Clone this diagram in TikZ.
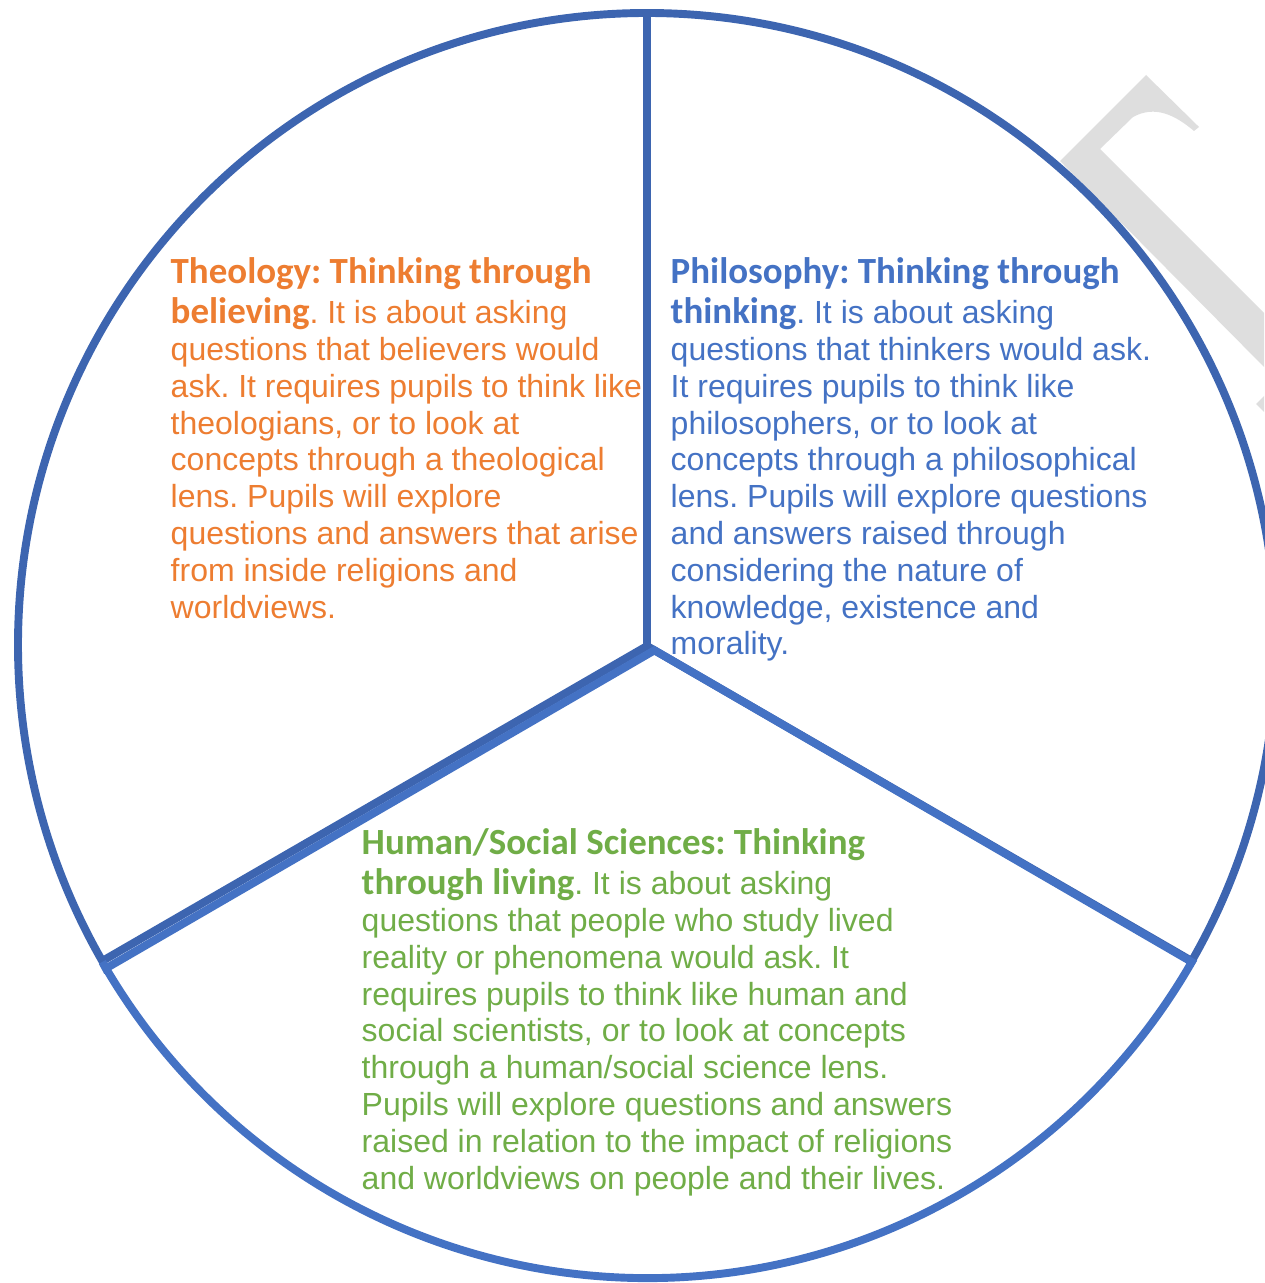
\documentclass[tikz,border=0pt]{standalone}
\usepackage{fontspec}
\setmainfont{Liberation Sans}
\newfontfamily\calibri{Carlito}
\usepackage{xcolor}
\usepackage{tikz}
\usetikzlibrary{positioning}

\definecolor{rimblue}{RGB}{61,101,176}
\definecolor{lowblue}{RGB}{68,114,196}
\definecolor{theoorange}{RGB}{237,125,49}
\definecolor{philblue}{RGB}{68,114,196}
\definecolor{humgreen}{RGB}{112,173,71}
\definecolor{markgray}{RGB}{222,222,222}

\newcommand{\lead}[1]{{\calibri\bfseries\fontsize{10.5}{11}\selectfont #1}}

\begin{document}
\frenchspacing
\begin{tikzpicture}[x=0.01cm, y=-0.01cm,
    rim/.style={line width=2.25pt, line join=miter},
    lens/.style={anchor=north west, inner sep=0pt, align=left,
        font=\fontsize{9.1}{10.47}\selectfont}]
    \useasboundingbox (0,0) rectangle (1264,1283);

    % faint watermark letter behind the wheel
    \fill[markgray] (1060,161) -- (1146,75) -- (1199,127) -- (1194,131)
        .. controls (1175,115) and (1155,105) .. (1133,117)
        -- (1100,149) -- (1264,313) -- (1264,367) -- cycle;
    \fill[markgray] (1256,404) -- (1264,396) -- (1264,412) -- cycle;

    % the three sectors
    \coordinate (hub) at (647,646);
    \coordinate (top) at (647,13);
    \coordinate (ll) at (102.3,962);
    \coordinate (hubb) at (654.5,650.3);
    \coordinate (llb) at (105.8,968.5);
    \draw[rim, rimblue] (hub) -- (top)
        arc[start angle=-90, end angle=-210, x radius=629, y radius=632] -- cycle;
    \draw[rim, rimblue] (hub) -- (top)
        arc[start angle=-90, end angle=30, x radius=629, y radius=632] -- cycle;
    \draw[rim, lowblue] (hubb) -- (llb) -- (ll)
        arc[start angle=150, end angle=30, x radius=629, y radius=632] -- cycle;

    % sector texts
    \node[lens, text=theoorange] (theology) at (170,257) {%
        \lead{Theology: Thinking through}\\[0.9pt]
        \lead{believing}. It is about asking\\
        questions that believers would\\
        ask. It requires pupils to think like\\
        theologians, or to look at\\
        concepts through a theological\\
        lens. Pupils will explore\\
        questions and answers that arise\\
        from inside religions and\\
        worldviews.};
    \node[lens, text=philblue] (philosophy) at (670,257) {%
        \lead{Philosophy: Thinking through}\\[0.9pt]
        \lead{thinking}. It is about asking\\
        questions that thinkers would ask.\\
        It requires pupils to think like\\
        philosophers, or to look at\\
        concepts through a philosophical\\
        lens. Pupils will explore questions\\
        and answers raised through\\
        considering the nature of\\
        knowledge, existence and\\
        morality.};
    \node[lens, text=humgreen] (social) at (361,828) {%
        \lead{Human/Social Sciences: Thinking}\\[0.9pt]
        \lead{through living}. It is about asking\\
        questions that people who study lived\\
        reality or phenomena would ask. It\\
        requires pupils to think like human and\\
        social scientists, or to look at concepts\\
        through a human/social science lens.\\
        Pupils will explore questions and answers\\
        raised in relation to the impact of religions\\
        and worldviews on people and their lives.};
\end{tikzpicture}
\end{document}
